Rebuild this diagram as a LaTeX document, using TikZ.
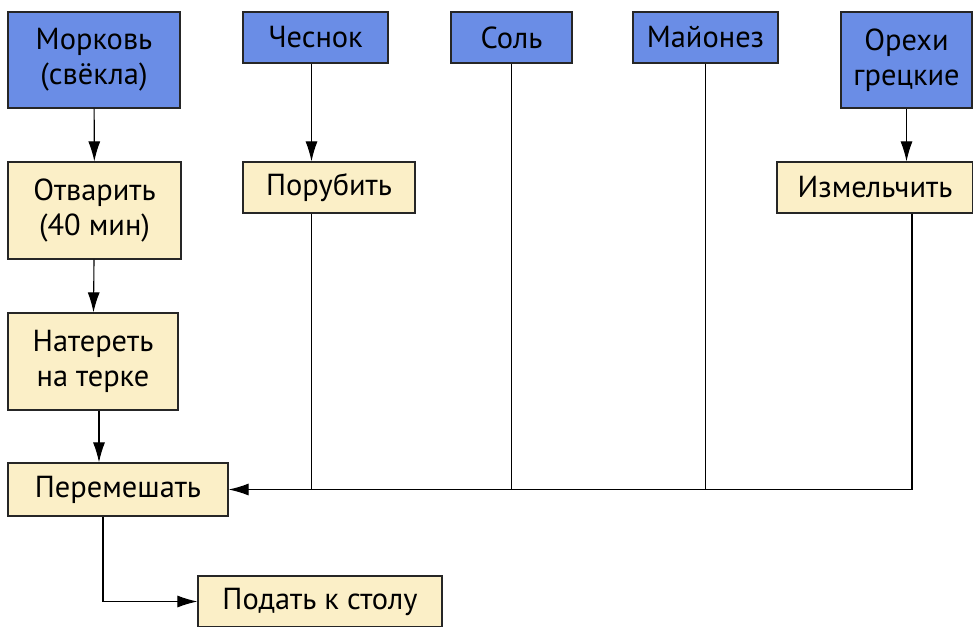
\documentclass[tikz,border=0pt]{standalone}
\usepackage{fontspec}
\setmainfont{PT Sans}
\usetikzlibrary{positioning,arrows.meta}
\definecolor{ingrblue}{RGB}{106,141,230}
\definecolor{stepyellow}{RGB}{251,239,199}
\begin{document}
\begin{tikzpicture}[x=0.5pt,y=-0.5pt,font=\fontsize{15.2}{17.5}\selectfont]
  \tikzset{
    box/.style={draw=black!85,line width=0.6pt,inner sep=0pt,align=center},
    ingr/.style={box,fill=ingrblue},
    act/.style={box,fill=stepyellow},
    link/.style={line width=0.55pt},
    >={Latex[length=10pt,width=6pt]}
  }
  \useasboundingbox (0,0) rectangle (973,626);
  % ingredients
  \node[ingr,minimum width=86pt,minimum height=48pt] (morkov) at (94,60) {Морковь\\(свёкла)};
  \node[ingr,minimum width=72.5pt,minimum height=25.5pt] (chesnok) at (315.5,37.5) {Чеснок};
  \node[ingr,minimum width=60.5pt,minimum height=25.5pt] (sol) at (511.5,37.5) {Соль};
  \node[ingr,minimum width=72.5pt,minimum height=25.5pt] (mayonez) at (705.5,37.5) {Майонез};
  \node[ingr,minimum width=65.5pt,minimum height=48pt] (orehi) at (906.5,60) {Орехи\\грецкие};
  % steps
  \node[act,minimum width=86.5pt,minimum height=48.5pt] (otvarit) at (94.5,210.5) {Отварить\\(40 мин)};
  \node[act,minimum width=86pt,minimum height=25.5pt] (porubit) at (329,187.5) {Порубить};
  \node[act,minimum width=98pt,minimum height=25.5pt] (izmelchit) at (875,187.5) {Измельчить};
  \node[act,minimum width=85pt,minimum height=48.5pt] (nateret) at (93,361.5) {Натереть\\на терке};
  \node[act,minimum width=110pt,minimum height=26.5pt] (peremeshat) at (118,489.5) {Перемешать};
  \node[act,minimum width=122pt,minimum height=25.5pt] (podat) at (320,601.5) {Подать к столу};
  % arrows
  \draw[link,->] (morkov) -- (otvarit);
  \draw[link,->] (otvarit) -- (nateret);
  \draw[link,->] ([xshift=3pt]nateret.south) -- ([xshift=3pt]nateret.south |- peremeshat.north);
  \draw[link,->] ([xshift=-2pt]chesnok.south) -- ([xshift=-2pt]chesnok.south |- porubit.north);
  \draw[link,->] (orehi.south) -- (orehi.south |- izmelchit.north);
  \draw[link] ([xshift=-2pt]chesnok.south |- porubit.south) -- ([xshift=-2pt]chesnok.south |- peremeshat.east);
  \draw[link] (sol.south) -- (sol.south |- peremeshat.east);
  \draw[link] (mayonez.south) -- (mayonez.south |- peremeshat.east);
  \draw[link,->] ([xshift=18.5pt]izmelchit.south) |- (peremeshat.east);
  \draw[link,->] ([xshift=-7.5pt]peremeshat.south) |- (podat.west);
\end{tikzpicture}
\end{document}
